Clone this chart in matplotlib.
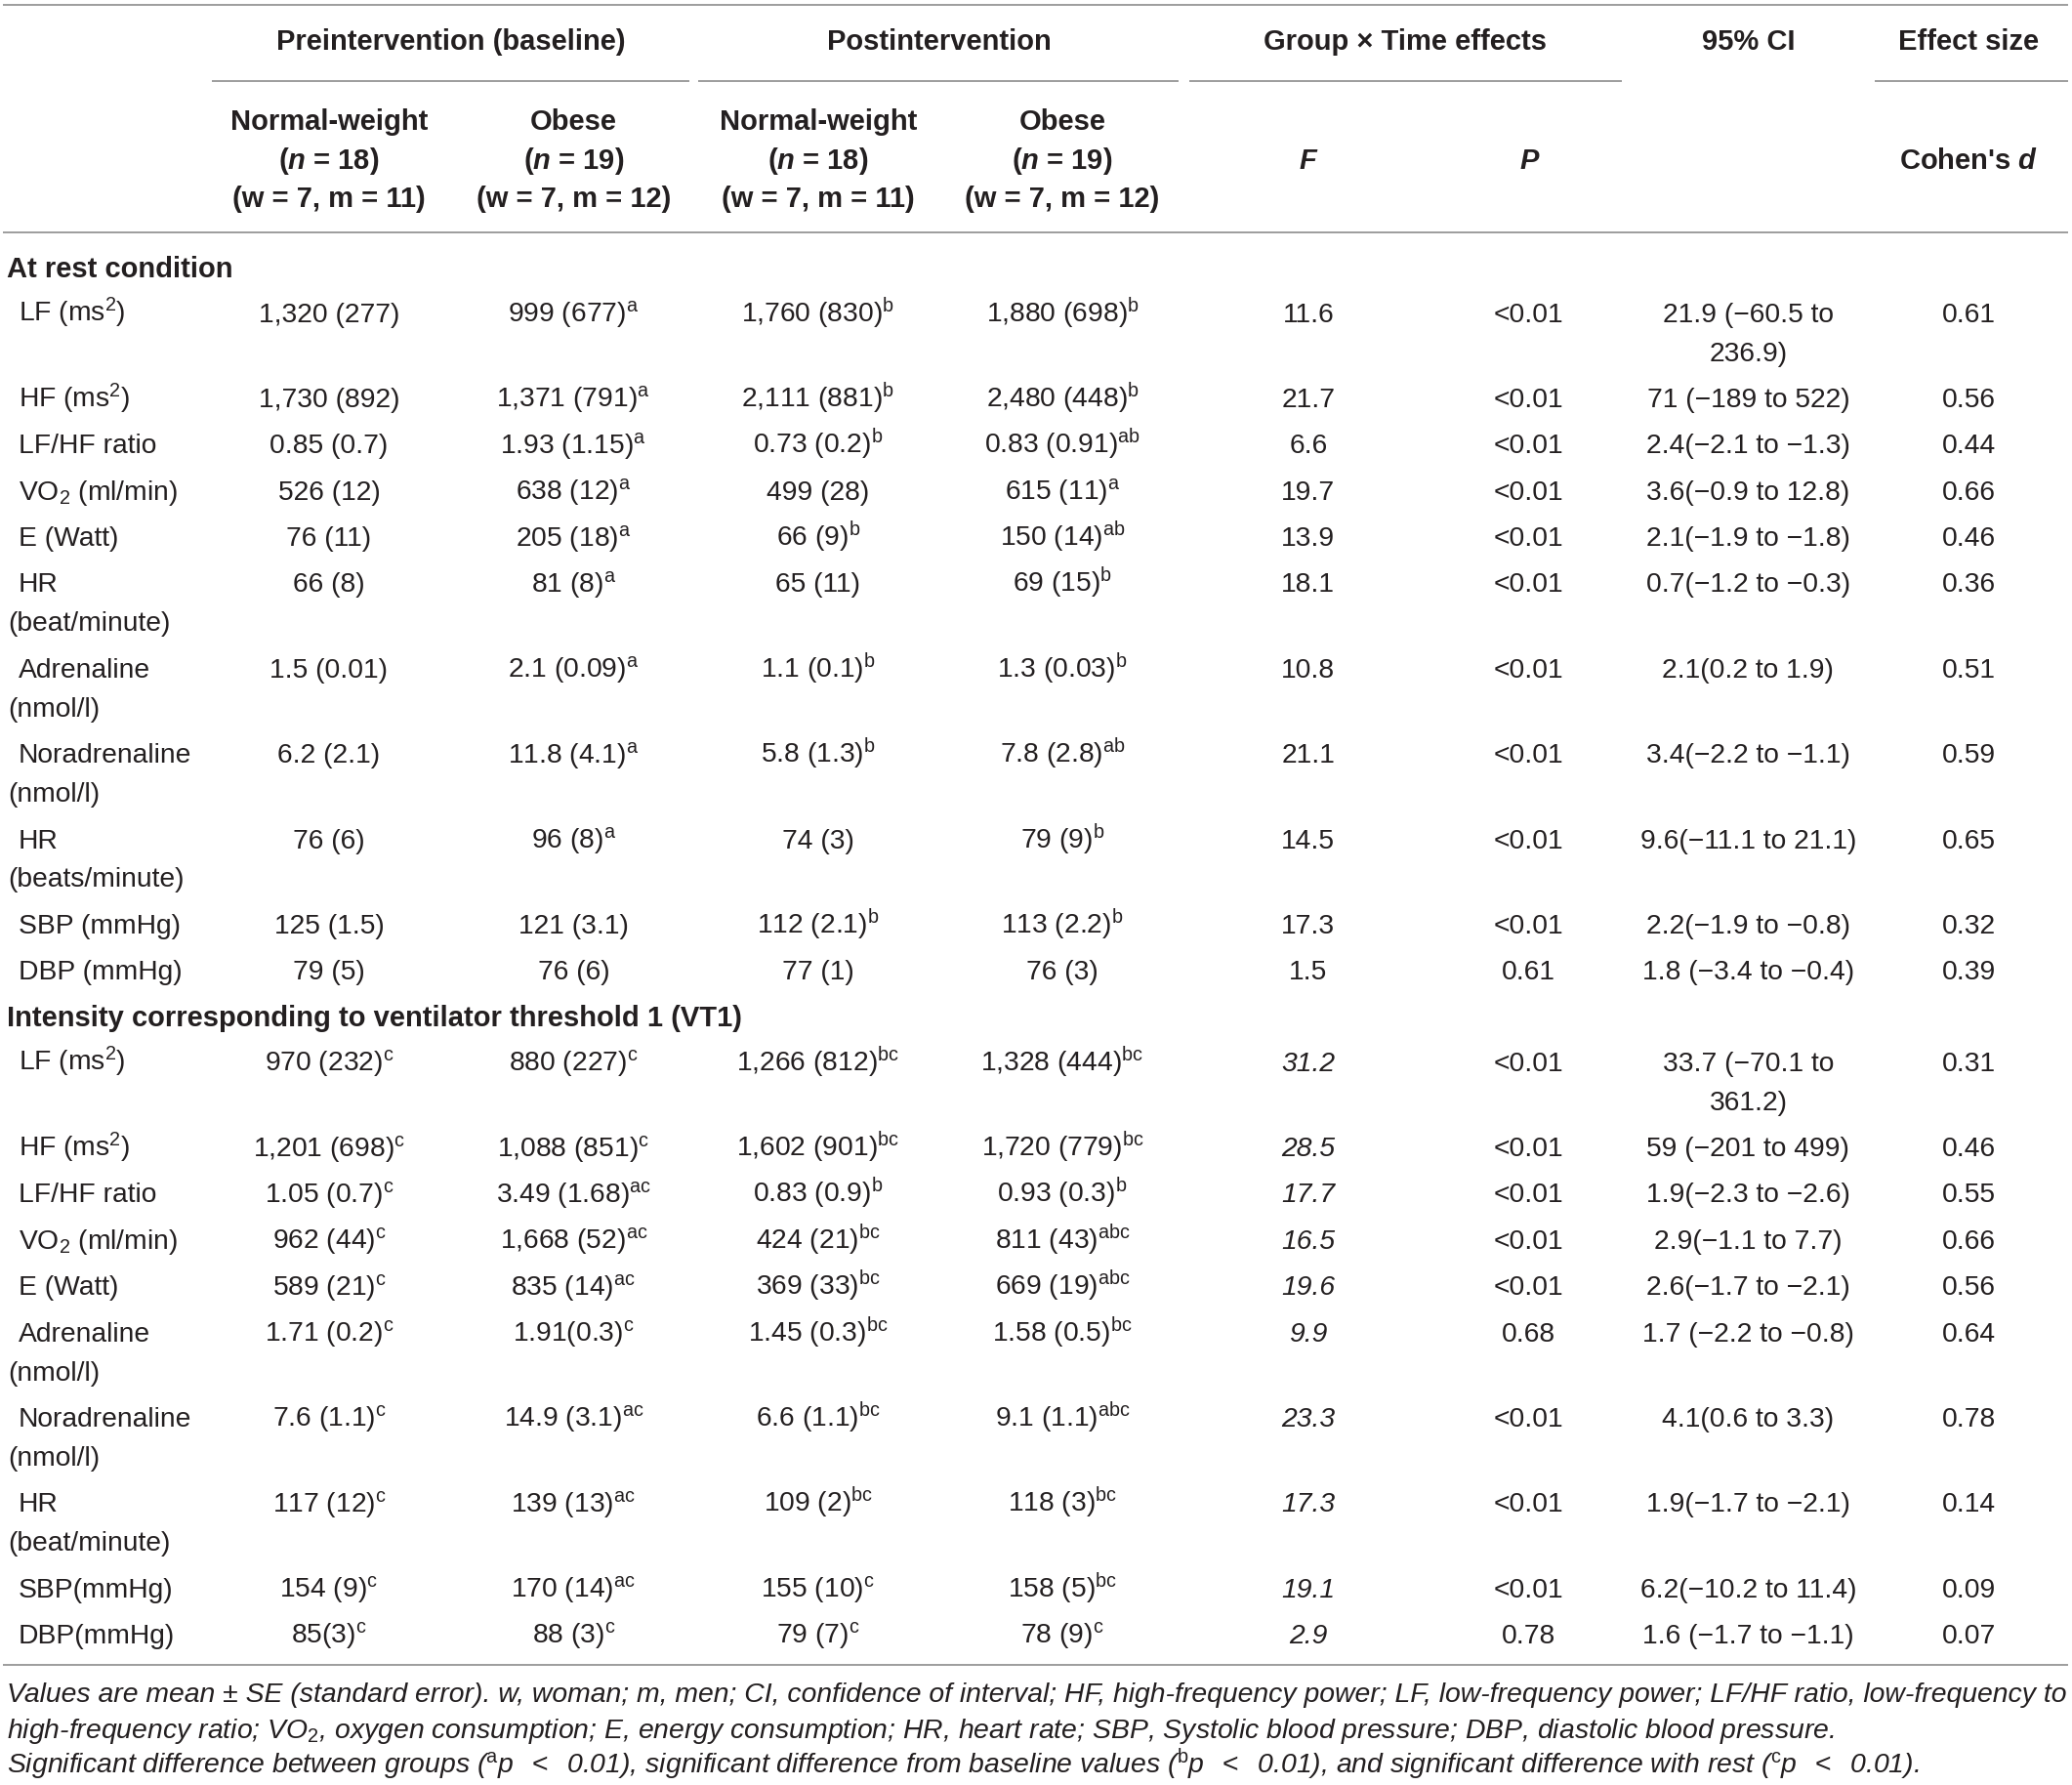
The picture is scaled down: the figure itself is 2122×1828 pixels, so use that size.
import matplotlib.pyplot as plt

plt.rcParams['font.family'] = ['Liberation Sans', 'DejaVu Sans']
plt.rcParams['mathtext.fontset'] = 'custom'
plt.rcParams['mathtext.rm'] = 'Liberation Sans'
plt.rcParams['mathtext.it'] = 'Liberation Sans:italic'
plt.rcParams['mathtext.bf'] = 'Liberation Sans:bold'
plt.rcParams['mathtext.bfit'] = 'Liberation Sans:italic:bold'

# ---- table data ----
group_headers = ["Preintervention (baseline)", "Postintervention", "Group \u00d7 Time effects", "95% CI", "Effect size"]
sub_groups = ["Normal-weight", "Obese", "Normal-weight", "Obese"]
sub_n = ["18", "19", "18", "19"]
sub_wm = ["(w = 7, m = 11)", "(w = 7, m = 12)", "(w = 7, m = 11)", "(w = 7, m = 12)"]

sections = ["At rest condition", "Intensity corresponding to ventilator threshold 1 (VT1)"]

rest_labels = ["LF (ms$^2$)", "HF (ms$^2$)", "LF/HF ratio", "VO$_2$ (ml/min)", "E (Watt)",
               "HR\n(beat/minute)", "Adrenaline\n(nmol/l)", "Noradrenaline\n(nmol/l)",
               "HR\n(beats/minute)", "SBP (mmHg)", "DBP (mmHg)"]
rest_pre_nw = ["1,320 (277)", "1,730 (892)", "0.85 (0.7)", "526 (12)", "76 (11)", "66 (8)",
               "1.5 (0.01)", "6.2 (2.1)", "76 (6)", "125 (1.5)", "79 (5)"]
rest_pre_nw_sup = ["", "", "", "", "", "", "", "", "", "", ""]
rest_pre_ob = ["999 (677)", "1,371 (791)", "1.93 (1.15)", "638 (12)", "205 (18)", "81 (8)",
               "2.1 (0.09)", "11.8 (4.1)", "96 (8)", "121 (3.1)", "76 (6)"]
rest_pre_ob_sup = ["a", "a", "a", "a", "a", "a", "a", "a", "a", "", ""]
rest_post_nw = ["1,760 (830)", "2,111 (881)", "0.73 (0.2)", "499 (28)", "66 (9)", "65 (11)",
                "1.1 (0.1)", "5.8 (1.3)", "74 (3)", "112 (2.1)", "77 (1)"]
rest_post_nw_sup = ["b", "b", "b", "", "b", "", "b", "b", "", "b", ""]
rest_post_ob = ["1,880 (698)", "2,480 (448)", "0.83 (0.91)", "615 (11)", "150 (14)", "69 (15)",
                "1.3 (0.03)", "7.8 (2.8)", "79 (9)", "113 (2.2)", "76 (3)"]
rest_post_ob_sup = ["b", "b", "ab", "a", "ab", "b", "b", "ab", "b", "b", ""]
rest_f = ["11.6", "21.7", "6.6", "19.7", "13.9", "18.1", "10.8", "21.1", "14.5", "17.3", "1.5"]
rest_p = ["<0.01", "<0.01", "<0.01", "<0.01", "<0.01", "<0.01", "<0.01", "<0.01", "<0.01", "<0.01", "0.61"]
rest_ci = ["21.9 (\u221260.5 to\n236.9)", "71 (\u2212189 to 522)", "2.4(\u22122.1 to \u22121.3)",
           "3.6(\u22120.9 to 12.8)", "2.1(\u22121.9 to \u22121.8)", "0.7(\u22121.2 to \u22120.3)",
           "2.1(0.2 to 1.9)", "3.4(\u22122.2 to \u22121.1)", "9.6(\u221211.1 to 21.1)",
           "2.2(\u22121.9 to \u22120.8)", "1.8 (\u22123.4 to \u22120.4)"]
rest_d = ["0.61", "0.56", "0.44", "0.66", "0.46", "0.36", "0.51", "0.59", "0.65", "0.32", "0.39"]

vt_labels = ["LF (ms$^2$)", "HF (ms$^2$)", "LF/HF ratio", "VO$_2$ (ml/min)", "E (Watt)",
             "Adrenaline\n(nmol/l)", "Noradrenaline\n(nmol/l)", "HR\n(beat/minute)",
             "SBP(mmHg)", "DBP(mmHg)"]
vt_pre_nw = ["970 (232)", "1,201 (698)", "1.05 (0.7)", "962 (44)", "589 (21)", "1.71 (0.2)",
             "7.6 (1.1)", "117 (12)", "154 (9)", "85(3)"]
vt_pre_nw_sup = ["c", "c", "c", "c", "c", "c", "c", "c", "c", "c"]
vt_pre_ob = ["880 (227)", "1,088 (851)", "3.49 (1.68)", "1,668 (52)", "835 (14)", "1.91(0.3)",
             "14.9 (3.1)", "139 (13)", "170 (14)", "88 (3)"]
vt_pre_ob_sup = ["c", "c", "ac", "ac", "ac", "c", "ac", "ac", "ac", "c"]
vt_post_nw = ["1,266 (812)", "1,602 (901)", "0.83 (0.9)", "424 (21)", "369 (33)", "1.45 (0.3)",
              "6.6 (1.1)", "109 (2)", "155 (10)", "79 (7)"]
vt_post_nw_sup = ["bc", "bc", "b", "bc", "bc", "bc", "bc", "bc", "c", "c"]
vt_post_ob = ["1,328 (444)", "1,720 (779)", "0.93 (0.3)", "811 (43)", "669 (19)", "1.58 (0.5)",
              "9.1 (1.1)", "118 (3)", "158 (5)", "78 (9)"]
vt_post_ob_sup = ["bc", "bc", "b", "abc", "abc", "bc", "abc", "bc", "bc", "c"]
vt_f = ["31.2", "28.5", "17.7", "16.5", "19.6", "9.9", "23.3", "17.3", "19.1", "2.9"]
vt_p = ["<0.01", "<0.01", "<0.01", "<0.01", "<0.01", "0.68", "<0.01", "<0.01", "<0.01", "0.78"]
vt_ci = ["33.7 (\u221270.1 to\n361.2)", "59 (\u2212201 to 499)", "1.9(\u22122.3 to \u22122.6)",
         "2.9(\u22121.1 to 7.7)", "2.6(\u22121.7 to \u22122.1)", "1.7 (\u22122.2 to \u22120.8)",
         "4.1(0.6 to 3.3)", "1.9(\u22121.7 to \u22122.1)", "6.2(\u221210.2 to 11.4)",
         "1.6 (\u22121.7 to \u22121.1)"]
vt_d = ["0.31", "0.46", "0.55", "0.66", "0.56", "0.64", "0.78", "0.14", "0.09", "0.07"]

footnotes = [
    "Values are mean \u00b1 SE (standard error). w, woman; m, men; CI, confidence of interval; HF, "
    "high-frequency power; LF, low-frequency power; LF/HF ratio, low-frequency to",
    "high-frequency ratio; VO$_2$, oxygen consumption; E, energy consumption; HR, heart rate; "
    "SBP, Systolic blood pressure; DBP, diastolic blood pressure.",
    "Significant difference between groups ($^{\\mathrm{a}}$p $\\;<\\;$ 0.01), significant difference from "
    "baseline values ($^{\\mathrm{b}}$p $\\;<\\;$ 0.01), and significant difference with rest "
    "($^{\\mathrm{c}}$p $\\;<\\;$ 0.01).",
]

# ---- layout (in units of a 1568 x 1350 page) ----
W, H = 1568, 1350
TXT = '#231f20'
LINE = '#8c8c8c'
FS = 20.3       # body
FS_HEAD = 21.0  # bold header
FS_NOTE = 20.4  # footnotes
col_x = [249, 434, 619, 804, 990, 1157, 1323, 1490]
base = 7.4  # baseline offset from the visual centre
row_h, line_h = 35, 29.5

fig = plt.figure(figsize=(21.22, 18.28), dpi=100)
ax = fig.add_axes([0, 0, 1, 1])
ax.set_xlim(0, W)
ax.set_ylim(H, 0)
ax.axis('off')


def txt(x, y, s, ha='center', **kw):
    kw.setdefault('fontsize', FS)
    kw.setdefault('color', TXT)
    ax.text(x, y + base, s, ha=ha, va='baseline', **kw)


def hline(x0, x1, y):
    ax.plot([x0, x1], [y, y], color=LINE, lw=1.2, solid_capstyle='butt')


def sup(s):
    return r'$^{\mathrm{%s}}$' % s if s else ''


# rules
hline(2, 1565, 4)
hline(160, 522, 61)
hline(528, 892, 61)
hline(900, 1227, 61)
hline(1419, 1565, 61)
hline(2, 1565, 176)
hline(2, 1565, 1259)

# header
group_x = [341, 711, 1063, 1323, 1490]
for gx, g in zip(group_x, group_headers):
    txt(gx, 30, g, fontweight='bold', fontsize=FS_HEAD)
for i in range(4):
    txt(col_x[i], 91, sub_groups[i], fontweight='bold', fontsize=FS_HEAD)
    txt(col_x[i], 120, r'($\mathbfit{n}$ = %s)' % sub_n[i], fontweight='bold', fontsize=FS_HEAD)
    txt(col_x[i], 149, sub_wm[i], fontweight='bold', fontsize=FS_HEAD)
txt(col_x[4], 120, 'F', fontweight='bold', fontstyle='italic', fontsize=FS_HEAD)
txt(col_x[5], 120, 'P', fontweight='bold', fontstyle='italic', fontsize=FS_HEAD)
txt(col_x[7], 120, r"Cohen's $\mathbfit{d}$", fontweight='bold', fontsize=FS_HEAD)

section_data = [
    (rest_labels, [rest_pre_nw, rest_pre_ob, rest_post_nw, rest_post_ob],
     [rest_pre_nw_sup, rest_pre_ob_sup, rest_post_nw_sup, rest_post_ob_sup],
     rest_f, rest_p, rest_ci, rest_d, 'normal'),
    (vt_labels, [vt_pre_nw, vt_pre_ob, vt_post_nw, vt_post_ob],
     [vt_pre_nw_sup, vt_pre_ob_sup, vt_post_nw_sup, vt_post_ob_sup],
     vt_f, vt_p, vt_ci, vt_d, 'italic'),
]

y = 202
for title, (labels, vals, sups, fvals, pvals, cis, ds, fstyle) in zip(sections, section_data):
    txt(5, y, title, ha='left', fontweight='bold', fontsize=FS_HEAD)
    y += 34
    for r, lab in enumerate(labels):
        lab_lines = lab.split('\n')
        ci_lines = cis[r].split('\n')
        for k, ln in enumerate(lab_lines):
            txt(14 if k == 0 else 6, y + k * line_h, ln, ha='left')
        for c in range(4):
            txt(col_x[c], y, vals[c][r] + sup(sups[c][r]))
        txt(col_x[4], y, fvals[r], fontstyle=fstyle)
        txt(col_x[5], y, pvals[r])
        for k, ln in enumerate(ci_lines):
            txt(col_x[6], y + k * line_h, ln)
        txt(col_x[7], y, ds[r])
        nl = max(len(lab_lines), len(ci_lines))
        y += row_h + (nl - 1) * line_h

for k, fn in enumerate(footnotes):
    txt(5, 1280 + k * 27, fn, ha='left', fontstyle='italic', fontsize=FS_NOTE)

fig.savefig('out.png', dpi=100, facecolor='white')
